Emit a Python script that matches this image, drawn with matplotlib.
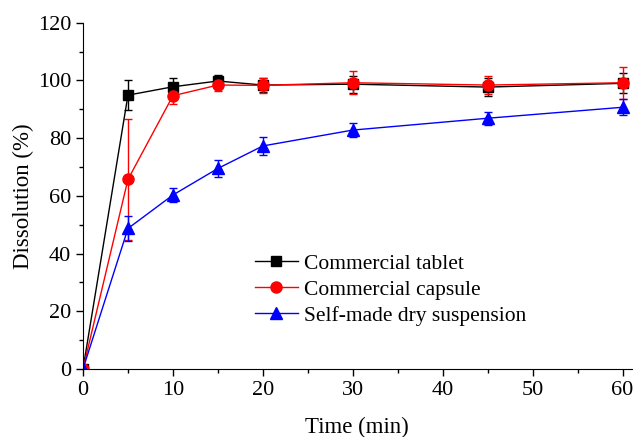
import matplotlib
matplotlib.use("Agg")
import matplotlib.pyplot as plt
from matplotlib.ticker import MultipleLocator

plt.rcParams['font.family'] = ['Liberation Serif', 'DejaVu Serif']

time = [0, 5, 10, 15, 20, 30, 45, 60]
tablet = [0, 94.9, 97.8, 99.8, 98.4, 98.7, 97.7, 99.0]
tablet_err = [0, 5.3, 3.0, 2.0, 2.5, 3.0, 3.0, 3.5]
capsule = [0, 65.7, 94.7, 98.4, 98.3, 99.2, 98.4, 99.2]
capsule_err = [0, 21.0, 3.0, 2.0, 2.5, 4.0, 3.2, 5.5]
suspension = [0, 48.7, 60.3, 69.5, 77.3, 82.8, 86.9, 90.7]
suspension_err = [0, 4.3, 2.5, 3.0, 3.0, 2.5, 2.2, 2.7]
labels = ["Commercial tablet", "Commercial capsule", "Self-made dry suspension"]

fig = plt.figure(figsize=(6.36, 4.37), dpi=100)
ax = fig.add_axes([0.1305, 0.1556, 0.8625, 0.7924])

handles = []
for y, e, c, m, ms, lab in [(tablet, tablet_err, 'black', 's', 6.5, labels[0]),
                            (capsule, capsule_err, 'red', 'o', 8, labels[1]),
                            (suspension, suspension_err, 'blue', '^', 9, labels[2])]:
    cont = ax.errorbar(time, y, yerr=e, color=c, marker=m, ms=ms,
                       lw=1, capsize=3, elinewidth=1, label=lab)
    handles.append(cont[0])

ax.set_xlim(0, 61)
ax.set_ylim(0, 120)
ax.xaxis.set_major_locator(MultipleLocator(10))
ax.xaxis.set_minor_locator(MultipleLocator(5))
ax.yaxis.set_major_locator(MultipleLocator(20))
ax.yaxis.set_minor_locator(MultipleLocator(10))
ax.spines['top'].set_visible(False)
ax.spines['right'].set_visible(False)
ax.tick_params(which='major', direction='out', length=5, width=1, labelsize=16)
ax.tick_params(which='minor', direction='out', length=3, width=1)
ax.set_xlabel('Time (min)', fontsize=16.5, labelpad=12)
ax.set_ylabel('Dissolution (%)', fontsize=16.5, labelpad=3)

ax.legend(handles, labels, loc='upper left', bbox_to_anchor=(0.313, 0.333), frameon=False,
          fontsize=15.5, handlelength=2.0, handletextpad=0.3, labelspacing=0.27,
          borderaxespad=0, borderpad=0)

fig.savefig('out.png', dpi=100)
